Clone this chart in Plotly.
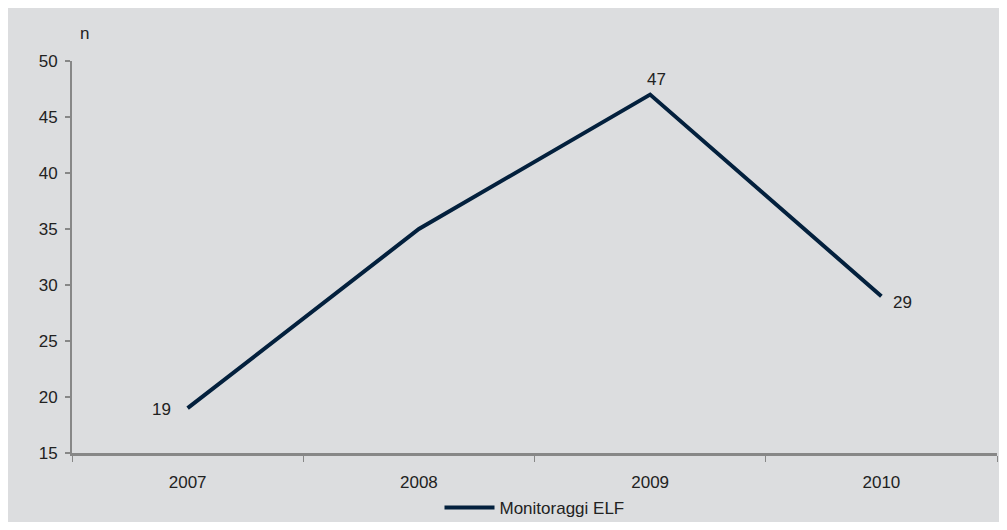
import plotly.graph_objects as go

years = ["2007", "2008", "2009", "2010"]
values = [19, 35, 47, 29]
label_text = ["19", "", "47", "29"]
label_dx = [-26, 0, 6, 21]
label_dy = [-1, 0, 15, -6]
series_name = "Monitoraggi ELF"
y_ticks = [15, 20, 25, 30, 35, 40, 45, 50]

FONT = "Liberation Sans, Arial, sans-serif"
GRAY_BG = "#dcdddf"
AXIS = "#878787"
TXT = "#222222"
FS = 17

# browser body margin puts the figure at (8, 8); keep it inside the window
OFF = 8
W, H = 1007 - 2 * OFF, 530 - 2 * OFF
L = 72 - OFF
R = W - (997 - OFF)
T = 61 - OFF
B = H - (453 - OFF)
pw, ph = W - L - R, H - T - B

def px_x(p):
    return (p - OFF - L) / pw

def px_y(p):
    return (H - B - (p - OFF)) / ph

fig = go.Figure()
fig.add_trace(go.Scatter(
    x=years, y=values, mode="lines", name=series_name,
    line=dict(color="#03203d", width=4),
    cliponaxis=False,
))

for i, (v, t, dx, dy) in enumerate(zip(values, label_text, label_dx, label_dy)):
    if t:
        fig.add_annotation(x=i, y=v, xref="x", yref="y", text=t, showarrow=False,
                           xshift=dx, yshift=dy,
                           font=dict(family=FONT, size=FS, color=TXT))

fig.add_annotation(text="n", xref="paper", yref="paper",
                   x=px_x(84), y=px_y(33), xanchor="center", yanchor="middle",
                   showarrow=False,
                   font=dict(family=FONT, size=FS, color=TXT))

fig.update_layout(
    width=W, height=H,
    margin=dict(l=L, r=R, t=T, b=B, autoexpand=False),
    paper_bgcolor=GRAY_BG, plot_bgcolor=GRAY_BG,
    font=dict(family=FONT, size=FS, color=TXT),
    showlegend=True,
    legend=dict(orientation="h", x=0.5, xanchor="center",
                yref="container", y=1 - (508 - OFF) / H, yanchor="middle",
                itemwidth=50,
                font=dict(family=FONT, size=FS, color=TXT), bgcolor="rgba(0,0,0,0)"),
    xaxis=dict(type="category", range=[-0.5, 3.5], showgrid=False,
               showline=True, linecolor=AXIS, linewidth=3,
               ticks="outside", tickson="boundaries", ticklen=6, tickcolor=AXIS, tickwidth=1,
               ticklabelstandoff=12,
               tickfont=dict(family=FONT, size=FS, color=TXT)),
    yaxis=dict(range=[15, 50], tickvals=y_ticks, showgrid=False, zeroline=False,
               showline=True, linecolor=AXIS, linewidth=2,
               ticks="outside", ticklen=5, tickcolor=AXIS, tickwidth=2,
               ticklabelstandoff=4,
               tickfont=dict(family=FONT, size=FS, color=TXT)),
)

fig.write_html("out.html")
